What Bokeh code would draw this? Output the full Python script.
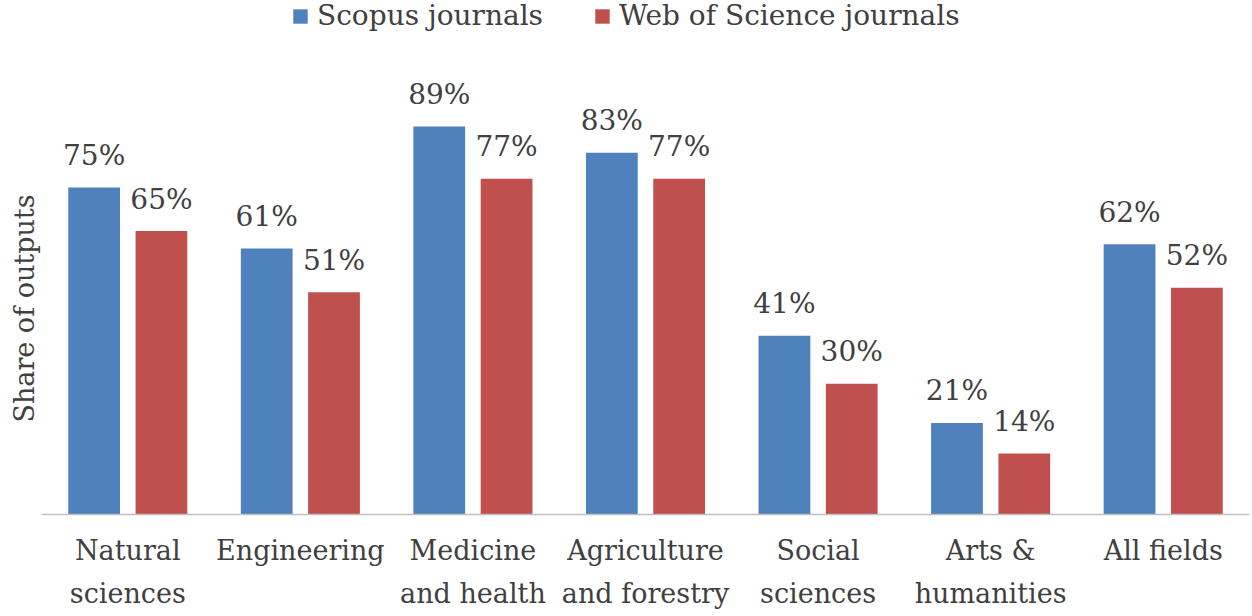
import numpy as np
from bokeh.plotting import figure
from bokeh.models import ColumnDataSource, Range1d, FixedTicker, Legend, LegendItem, Title
from bokeh.core.properties import value
from bokeh.embed import file_html
from bokeh.resources import INLINE

categories = ["Natural\nsciences", "Engineering", "Medicine\nand health",
              "Agriculture\nand forestry", "Social\nsciences", "Arts &\nhumanities", "All fields"]
scopus = [75, 61, 89, 83, 41, 21, 62]
wos = [65, 51, 77, 77, 30, 14, 52]
series_names = ["Scopus journals", "Web of Science journals"]
colors = ["#4F81BD", "#C0504D"]

FONT = "DejaVu Serif"
TXT = "#404040"

idx = np.arange(len(categories))
off = 0.195
bw = 0.30

p = figure(width=1252, height=616, output_backend="svg", toolbar_location=None,
           x_range=Range1d(-0.5, len(categories) - 0.5), y_range=Range1d(-23.39, 117.89),
           min_border_left=41, min_border_right=3, min_border_top=0, min_border_bottom=0)
p.outline_line_color = None
p.xgrid.visible = False
p.ygrid.visible = False
p.yaxis.visible = False

ytitle = Title(text="Share of outputs", align="center", text_font=FONT, text_font_size="27px",
               text_font_style="normal", text_color=TXT, standoff=4, offset=0)
p.add_layout(ytitle, "left")

src_s = ColumnDataSource(dict(x=idx - off, top=scopus, lab=[f"{v}%" for v in scopus]))
src_w = ColumnDataSource(dict(x=idx + off, top=wos, lab=[f"{v}%" for v in wos]))

r1 = p.vbar(x="x", top="top", width=bw, source=src_s, fill_color=colors[0], line_color=None)
r2 = p.vbar(x="x", top="top", width=bw, source=src_w, fill_color=colors[1], line_color=None)

for src in (src_s, src_w):
    p.text(x="x", y="top", text="lab", source=src, text_align="center", text_baseline="alphabetic",
           y_offset=-32, text_font=value(FONT), text_font_size="28px", text_color=TXT)

ax = p.xaxis[0]
ax.fixed_location = 0
ax.ticker = FixedTicker(ticks=list(idx))
ax.major_label_overrides = {int(i): c for i, c in zip(idx, categories)}
ax.major_label_text_font = FONT
ax.major_label_text_font_size = "27px"
ax.major_label_text_color = TXT
ax.major_label_text_line_height = 1.4
ax.major_label_standoff = 20
ax.major_tick_line_color = None
ax.minor_tick_line_color = None
ax.major_tick_out = 0
ax.major_tick_in = 0
ax.axis_line_color = "#BFBFBF"
ax.axis_line_width = 1.5

legend = Legend(items=[LegendItem(label=series_names[0], renderers=[r1]),
                       LegendItem(label=series_names[1], renderers=[r2])],
                location=(250, 584), orientation="horizontal")
legend.label_text_font = FONT
legend.label_text_font_size = "28px"
legend.label_text_color = TXT
legend.glyph_width = 18
legend.glyph_height = 18
legend.label_standoff = 8
legend.spacing = 50
legend.padding = 0
legend.margin = 0
legend.border_line_color = None
legend.background_fill_alpha = 0
p.add_layout(legend)

open("out.html", "w").write(file_html(p, INLINE))
